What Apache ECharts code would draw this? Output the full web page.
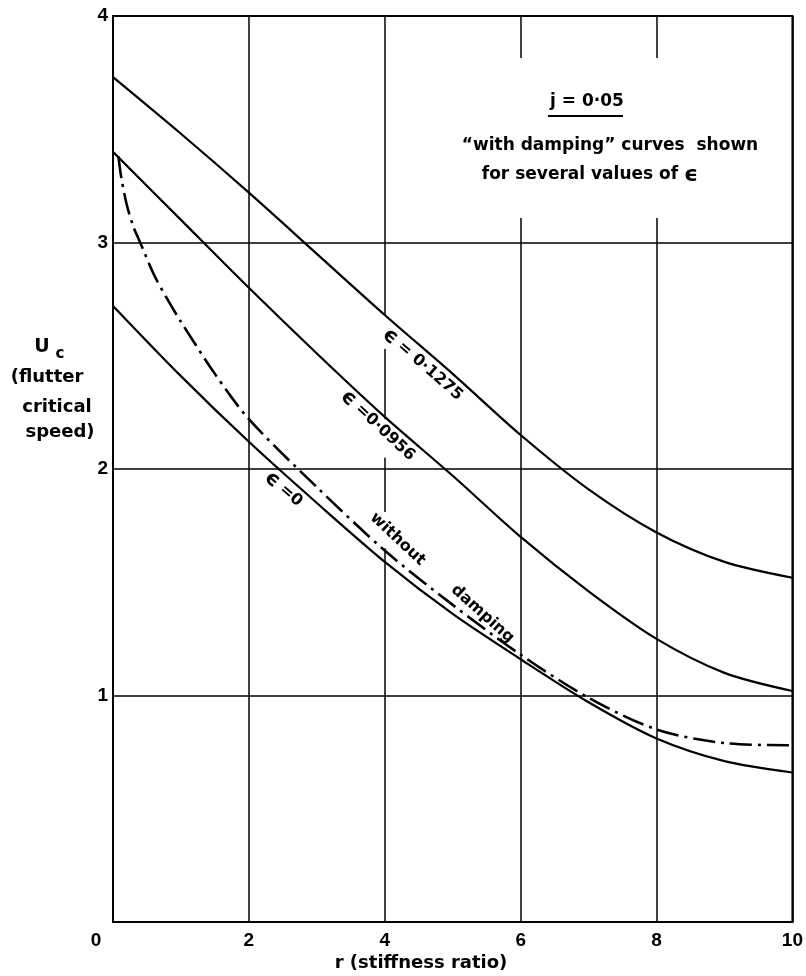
<!DOCTYPE html>
<html>
<head>
<meta charset="utf-8">
<script src="https://cdn.jsdelivr.net/npm/echarts/dist/echarts.min.js"></script>
<style>
  html, body { margin: 0; padding: 0; background: #fff; }
  #chart { width: 806px; height: 976px; }
</style>
</head>
<body>
<div id="chart"></div>
<script>
// Stiffness ratio r and flutter critical speed U_c for the "with damping" curves
const rWithDamping = [0, 1, 2, 3, 4, 5, 6, 7, 8, 9, 10];
const uEps1275 = [3.73, 3.48, 3.22, 2.95, 2.68, 2.42, 2.15, 1.91, 1.72, 1.59, 1.52];
const uEps0956 = [3.40, 3.10, 2.80, 2.51, 2.23, 1.97, 1.70, 1.46, 1.25, 1.10, 1.02];
const uEps0    = [2.72, 2.41, 2.12, 1.85, 1.59, 1.36, 1.16, 0.97, 0.81, 0.71, 0.66];

// "without damping" curve
const rNoDamping = [0.08, 0.12, 0.2, 0.3, 0.4, 0.6, 0.8, 1, 1.5, 2, 3, 4, 5, 6, 7, 8, 9, 10];
const uNoDamping = [3.38, 3.29, 3.17, 3.07, 3.00, 2.86, 2.75, 2.65, 2.42, 2.22, 1.92, 1.64, 1.40, 1.18, 0.99, 0.85, 0.79, 0.78];

// Axis ticks
const xTicks = [0, 2, 4, 6, 8, 10];
const yTicks = [0, 1, 2, 3, 4];

const FONT = "'DejaVu Sans', sans-serif";
const TICK_FONT = "'Liberation Sans', Arial, sans-serif";

const pairs = (xs, ys) => xs.map((x, i) => [x, ys[i]]);

const chart = echarts.init(document.getElementById('chart'), null, { renderer: 'canvas' });

const solid = { color: '#000', width: 2.2 };

chart.setOption({
  animation: false,
  backgroundColor: '#fff',
  grid: {
    left: 113, right: 13, top: 16, bottom: 54,
    show: true, borderColor: '#000', borderWidth: 2, backgroundColor: 'transparent'
  },
  xAxis: {
    type: 'value',
    min: xTicks[0], max: xTicks[xTicks.length - 1], interval: 2,
    axisLine: { show: true, lineStyle: { color: '#000', width: 2 } },
    axisTick: { show: false },
    splitLine: { show: true, lineStyle: { color: '#000', width: 1.5 } },
    axisLabel: {
      color: '#000', fontSize: 19, fontWeight: 'bold', fontFamily: TICK_FONT, margin: 9,
      formatter: v => (v === 0 ? '{z|0}' : String(v)),
      rich: { z: { padding: [0, 34, 0, 0], fontSize: 19, fontWeight: 'bold', fontFamily: TICK_FONT, color: '#000' } }
    }
  },
  yAxis: {
    type: 'value',
    min: yTicks[0], max: yTicks[yTicks.length - 1], interval: 1,
    axisLine: { show: true, lineStyle: { color: '#000', width: 2 } },
    axisTick: { show: false },
    splitLine: { show: true, lineStyle: { color: '#000', width: 1.5 } },
    axisLabel: {
      color: '#000', fontSize: 19, fontWeight: 'bold', fontFamily: TICK_FONT, margin: 5,
      formatter: v => (v === 0 ? '' : String(v))
    }
  },
  series: [
    { name: 'eps 0.1275', type: 'line', data: pairs(rWithDamping, uEps1275), symbol: 'none', smooth: 0.3, lineStyle: solid, z: 3 },
    { name: 'eps 0.0956', type: 'line', data: pairs(rWithDamping, uEps0956), symbol: 'none', smooth: 0.3, lineStyle: solid, z: 3 },
    { name: 'eps 0', type: 'line', data: pairs(rWithDamping, uEps0), symbol: 'none', smooth: 0.3, lineStyle: solid, z: 3 },
    { name: 'without damping', type: 'line', data: pairs(rNoDamping, uNoDamping), symbol: 'none', smooth: 0.3,
      lineStyle: { color: '#000', width: 2.6, type: [22, 6, 3, 6] }, z: 3 }
  ]
});

// Annotations: rotated curve labels placed in data space
const deg = d => d * Math.PI / 180;
const EPS = '{e|ϵ}';
const curveLabels = [
  { text: EPS + ' = 0·1275', at: [4.56, 2.46], angle: 41 },
  { text: EPS + ' =0·0956',  at: [3.90, 2.19], angle: 43 },
  { text: EPS + ' =0',       at: [2.51, 1.91], angle: 41 },
  { text: 'without',         at: [4.19, 1.69], angle: 43 },
  { text: 'damping',         at: [5.44, 1.36], angle: 42 }
];
// breaks in the r = 4 grid line beside the labels
const gridBreaks = [[2.53, 2.68], [2.05, 2.22], [1.65, 1.81]];

const px = p => chart.convertToPixel({ gridIndex: 0 }, p);
const richEps = size => ({ e: { font: 'bold ' + size + 'px ' + FONT, fill: '#000' } });

const graphics = [];

gridBreaks.forEach(([u0, u1]) => {
  const a = px([4, u1]);
  const b = px([4, u0]);
  graphics.push({ type: 'rect', z: 1, shape: { x: a[0] - 3, y: a[1], width: 6, height: b[1] - a[1] },
    style: { fill: '#fff' }, silent: true });
});

// clear area behind the note block
graphics.push({ type: 'rect', z: 1, shape: { x: 455, y: 58, width: 320, height: 160 }, style: { fill: '#fff' }, silent: true });

curveLabels.forEach(l => {
  const p = px(l.at);
  graphics.push({
    type: 'text', z: 10, x: p[0], y: p[1], rotation: -deg(l.angle),
    style: { text: l.text, fill: '#000', font: 'bold 16px ' + FONT, textAlign: 'center', textVerticalAlign: 'middle',
      rich: richEps(21) }
  });
});

const note = (text, x, y, size) => ({
  type: 'text', z: 10, x, y,
  style: { text, fill: '#000', font: 'bold ' + size + 'px ' + FONT, textAlign: 'center', textVerticalAlign: 'middle',
    rich: richEps(22) }
});

graphics.push(note('j = 0·05', 587, 102, 17));
graphics.push({ type: 'line', z: 10, shape: { x1: 548, y1: 116, x2: 623, y2: 116 }, style: { stroke: '#000', lineWidth: 2 } });
graphics.push(note('“with damping” curves  shown', 610, 146, 17));
graphics.push(note('for several values of ' + EPS, 590, 175, 17));

// y-axis title block
graphics.push(note('U', 42, 347, 19));
graphics.push(note('c', 60, 354, 15));
graphics.push(note('(flutter', 47, 377, 18));
graphics.push(note('critical', 57, 407, 18));
graphics.push(note('speed)', 60, 432, 18));

// x-axis title
graphics.push(note('r (stiffness ratio)', 421, 963, 18));

chart.setOption({ graphic: graphics });
</script>
</body>
</html>
